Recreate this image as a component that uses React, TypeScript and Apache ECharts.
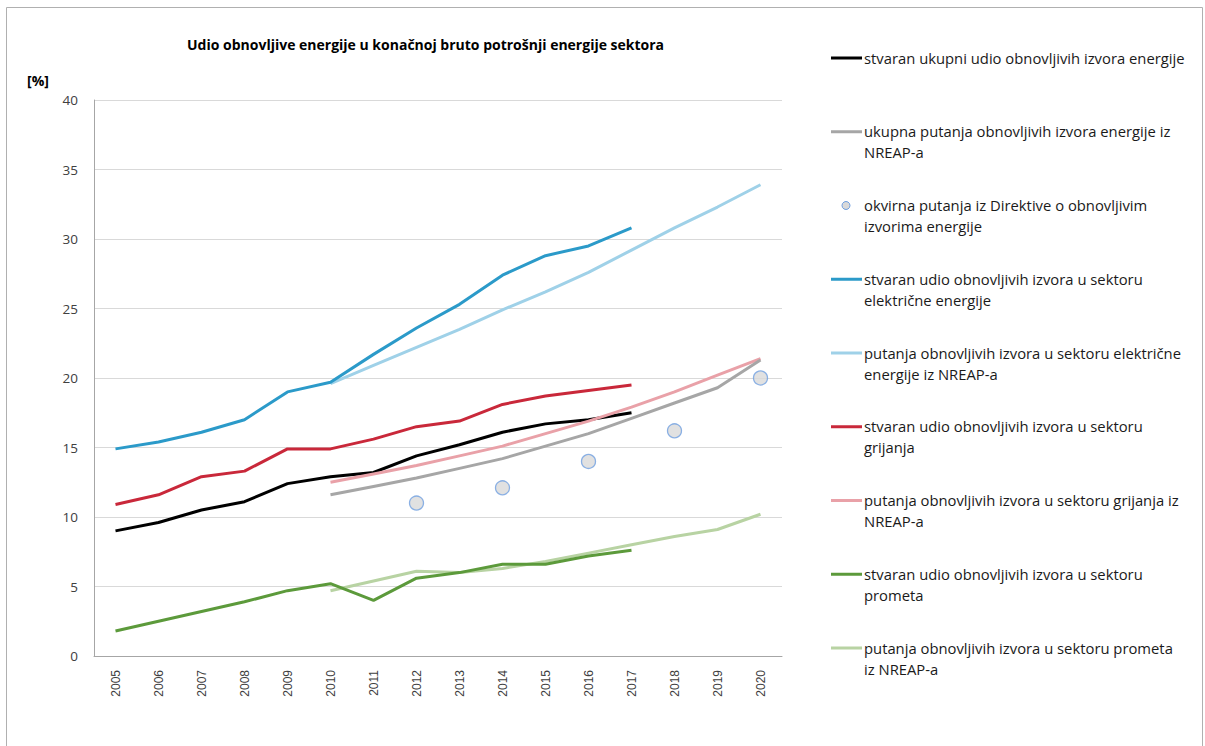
import React, { useEffect, useRef } from "react";
import * as echarts from "echarts";

const years = ["2005", "2006", "2007", "2008", "2009", "2010", "2011", "2012", "2013", "2014", "2015", "2016", "2017", "2018", "2019", "2020"];

const actualTotal = [9.0, 9.6, 10.5, 11.1, 12.4, 12.9, 13.2, 14.4, 15.2, 16.1, 16.7, 17.0, 17.5, null, null, null];
const nreapTotal = [null, null, null, null, null, 11.6, 12.2, 12.8, 13.5, 14.2, 15.1, 16.0, 17.1, 18.2, 19.3, 21.3];
const directiveTrajectory = [null, null, null, null, null, null, null, 11.0, null, 12.1, null, 14.0, null, 16.2, null, 20.0];
const actualElectricity = [14.9, 15.4, 16.1, 17.0, 19.0, 19.7, 21.7, 23.6, 25.3, 27.4, 28.8, 29.5, 30.8, null, null, null];
const nreapElectricity = [null, null, null, null, null, 19.6, 20.9, 22.2, 23.5, 24.9, 26.2, 27.6, 29.2, 30.8, 32.3, 33.9];
const actualHeating = [10.9, 11.6, 12.9, 13.3, 14.9, 14.9, 15.6, 16.5, 16.9, 18.1, 18.7, 19.1, 19.5, null, null, null];
const nreapHeating = [null, null, null, null, null, 12.5, 13.1, 13.7, 14.4, 15.1, 16.0, 16.9, 17.9, 19.0, 20.2, 21.4];
const actualTransport = [1.8, 2.5, 3.2, 3.9, 4.7, 5.2, 4.0, 5.6, 6.0, 6.6, 6.6, 7.2, 7.6, null, null, null];
const nreapTransport = [null, null, null, null, null, 4.7, 5.4, 6.1, 6.0, 6.3, 6.8, 7.4, 8.0, 8.6, 9.1, 10.2];

const seriesNames = [
  "stvaran ukupni udio obnovljivih izvora energije",
  "ukupna putanja obnovljivih izvora energije iz\nNREAP-a",
  "okvirna putanja iz Direktive o obnovljivim\nizvorima energije",
  "stvaran udio obnovljivih izvora u sektoru\nelektrične energije",
  "putanja obnovljivih izvora u sektoru električne\nenergije iz NREAP-a",
  "stvaran udio obnovljivih izvora u sektoru\ngrijanja",
  "putanja obnovljivih izvora u sektoru grijanja iz\nNREAP-a",
  "stvaran udio obnovljivih izvora u sektoru\nprometa",
  "putanja obnovljivih izvora u sektoru prometa\niz NREAP-a",
];
const seriesColors = ["#000000", "#a6a6a6", "#d9d9d9", "#2b9ac9", "#9fd1e8", "#c9283a", "#e9a1a8", "#5c9a3b", "#b8d3a3"];

const titleText = "Udio obnovljive energije u konačnoj bruto potrošnji energije sektora";
const unitText = "[%]";

export default function App() {
  const ref = useRef<HTMLDivElement>(null);
  useEffect(() => {
    const chart = echarts.init(ref.current!, undefined, { renderer: "svg", width: 1205, height: 746 });
    const seriesData = [actualTotal, nreapTotal, directiveTrajectory, actualElectricity, nreapElectricity, actualHeating, nreapHeating, actualTransport, nreapTransport];
    const series: any[] = seriesData.map((d, i) => {
      if (i === 2) {
        return {
          type: "scatter",
          name: seriesNames[i],
          data: d,
          symbol: "circle",
          symbolSize: 14,
          itemStyle: { color: "#d9d9d9", borderColor: "#6f9fe0", borderWidth: 1.3 },
          z: 5,
        };
      }
      return {
        type: "line",
        name: seriesNames[i],
        data: d,
        symbol: "none",
        lineStyle: { color: seriesColors[i], width: 3 },
        itemStyle: { color: seriesColors[i] },
        z: 2 + (i % 2),
      };
    });

    const legendFont = "14.8px 'Open Sans'";
    const legendGraphics: any[] = [];
    seriesNames.forEach((name, i) => {
      const y = 58 + i * 73.75;
      if (i === 2) {
        legendGraphics.push({
          type: "circle",
          shape: { cx: 846, cy: y, r: 4 },
          style: { fill: "#d9d9d9", stroke: "#6f9fe0", lineWidth: 1 },
        });
      } else {
        legendGraphics.push({
          type: "line",
          shape: { x1: 831, y1: y, x2: 862, y2: y },
          style: { stroke: seriesColors[i], lineWidth: 3 },
        });
      }
      legendGraphics.push({
        type: "text",
        x: 864,
        y: y - 11,
        style: { text: name, font: legendFont, fill: "#1a1a1a", lineHeight: 21, verticalAlign: "top", align: "left" },
      });
    });

    chart.setOption({
      animation: false,
      backgroundColor: "#ffffff",
      title: {
        text: titleText,
        left: 182,
        top: 32,
        textStyle: { fontFamily: "'Open Sans'", fontWeight: "bold", fontSize: 14, color: "#000000" },
      },
      grid: { left: 94, right: 423, top: 100, bottom: 90 },
      xAxis: {
        type: "category",
        data: years,
        boundaryGap: true,
        axisLine: { show: true, lineStyle: { color: "#a6a6a6", width: 1 } },
        axisTick: { show: false },
        axisLabel: { rotate: 90, margin: 14, fontFamily: "'Liberation Sans'", fontSize: 12, color: "#404040" },
        splitLine: { show: false },
      },
      yAxis: {
        type: "value",
        min: 0,
        max: 40,
        interval: 5,
        axisLine: { show: true, lineStyle: { color: "#a6a6a6", width: 1 } },
        axisTick: { show: false },
        axisLabel: { margin: 16, fontFamily: "'Open Sans'", fontSize: 13.5, color: "#404040" },
        splitLine: { show: true, lineStyle: { color: "#d9d9d9", width: 1 } },
      },
      graphic: [
        {
          type: "rect",
          shape: { x: 6.5, y: 7.5, width: 1196, height: 800 },
          style: { fill: "none", stroke: "#b0b0b0", lineWidth: 1 },
          silent: true,
        },
        {
          type: "text",
          x: 27,
          y: 80,
          style: { text: unitText, font: "bold 14px 'Open Sans'", fill: "#000000", verticalAlign: "middle" },
        },
        ...legendGraphics,
      ],
      series,
    });
    return () => chart.dispose();
  }, []);
  return <div ref={ref} style={{ position: "absolute", left: 0, top: 0, width: 1205, height: 746, background: "#fff" }} />;
}
